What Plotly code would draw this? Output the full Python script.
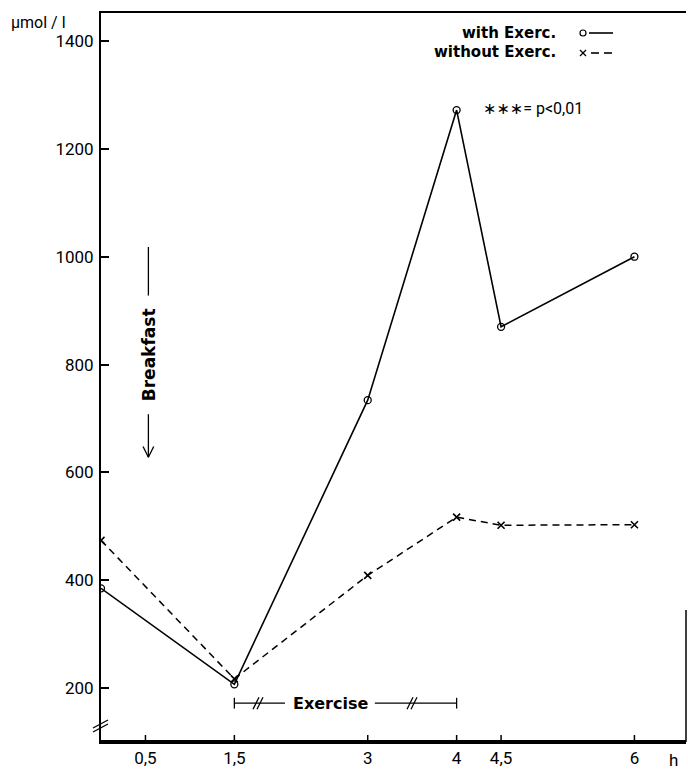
import plotly.graph_objects as go

# Time points (h) and concentrations (µmol/l)
hours = [0, 1.5, 3, 4, 4.5, 6]
with_exercise = [385, 207, 734, 1272, 870, 1000]
without_exercise = [474, 217, 409, 517, 502, 503]

x_tick_vals = [0.5, 1.5, 3, 4, 4.5, 6]
x_tick_text = ["0,5", "1,5", "3", "4", "4,5", "6"]
y_tick_vals = [200, 400, 600, 800, 1000, 1200, 1400]

W, H = 688, 770
ML, MR, MT, MB = 101, 2, 13, 28
PW, PH = W - ML - MR, H - MT - MB
X_RANGE = [0, 6.58]
Y_RANGE = [100, 1452]

NUM_FONT = "Roboto, 'DejaVu Sans', sans-serif"
BOLD_FONT = "'DejaVu Sans', sans-serif"


def px_x(p):
    return (p - ML) / PW


def px_y(p):
    return (H - MB - p) / PH


fig = go.Figure()

fig.add_trace(go.Scatter(
    x=hours, y=with_exercise, mode="lines+markers", name="with Exerc.",
    line=dict(color="black", width=1.6),
    marker=dict(symbol="circle-open", size=7, color="black", line=dict(width=1.3)),
    showlegend=False,
))
fig.add_trace(go.Scatter(
    x=hours, y=without_exercise, mode="lines+markers", name="without Exerc.",
    line=dict(color="black", width=1.5, dash="7px,5px"),
    marker=dict(symbol="x-thin", size=7, color="black", line=dict(width=1.6, color="black")),
    showlegend=False,
))

shapes = []
annotations = []
LINE = dict(color="black", width=1.3)

# frame: bottom edge and partial right edge
shapes.append(dict(type="line", xref="paper", yref="paper", x0=0, x1=1,
                   y0=px_y(741.5), y1=px_y(741.5), line=dict(color="black", width=3),
                   layer="above"))
shapes.append(dict(type="line", xref="paper", yref="paper", x0=1, x1=1,
                   y0=0, y1=px_y(610), line=dict(color="black", width=1.5)))

# x-axis tick marks
for tv in x_tick_vals:
    shapes.append(dict(type="line", x0=tv, x1=tv, yref="paper",
                       y0=px_y(741), y1=px_y(735), line=dict(color="black", width=1.5)))

# y-axis break marks
for dy in (0, 4):
    shapes.append(dict(type="line", xref="paper", yref="paper",
                       x0=px_x(93), y0=px_y(732 - dy), x1=px_x(108), y1=px_y(724 - dy),
                       line=LINE))

# Exercise bracket
EX_Y = 172
ex_y_px = H - MB - (EX_Y - Y_RANGE[0]) / (Y_RANGE[1] - Y_RANGE[0]) * PH
shapes += [
    dict(type="line", x0=1.5, x1=2.07, y0=EX_Y, y1=EX_Y, line=LINE),
    dict(type="line", x0=3.08, x1=4.0, y0=EX_Y, y1=EX_Y, line=LINE),
    dict(type="line", x0=1.5, x1=1.5, y0=EX_Y - 10, y1=EX_Y + 10, line=LINE),
    dict(type="line", x0=4.0, x1=4.0, y0=EX_Y - 10, y1=EX_Y + 10, line=LINE),
]
for cx in (258, 412):
    for dx in (-2, 2):
        shapes.append(dict(type="line", xref="paper", yref="paper",
                           x0=px_x(cx + dx - 3), y0=px_y(ex_y_px + 6),
                           x1=px_x(cx + dx + 3), y1=px_y(ex_y_px - 6), line=LINE))
annotations.append(dict(x=2.58, y=EX_Y, text="<b>Exercise</b>", showarrow=False,
                        font=dict(family=BOLD_FONT, size=16, color="black"),
                        xanchor="center", yanchor="middle"))

# Breakfast marker (vertical text with arrow pointing down)
BX = 0.533
shapes += [
    dict(type="line", x0=BX, x1=BX, y0=928, y1=1018, line=LINE),
    dict(type="line", x0=BX, x1=BX, y0=628, y1=708, line=LINE),
    dict(type="line", x0=BX - 0.06, x1=BX, y0=648, y1=628, line=LINE),
    dict(type="line", x0=BX + 0.06, x1=BX, y0=648, y1=628, line=LINE),
]
annotations.append(dict(x=BX, y=818, text="<b>Breakfast</b>", showarrow=False,
                        textangle=-90, font=dict(family=BOLD_FONT, size=17, color="black"),
                        xanchor="center", yanchor="middle"))

# Legend
annotations += [
    dict(xref="paper", yref="paper", x=px_x(558), y=px_y(33), text="<b>with Exerc.</b>",
         showarrow=False, xanchor="right", yanchor="middle",
         font=dict(family=BOLD_FONT, size=15, color="black")),
    dict(xref="paper", yref="paper", x=px_x(558), y=px_y(52), text="<b>without Exerc.</b>",
         showarrow=False, xanchor="right", yanchor="middle",
         font=dict(family=BOLD_FONT, size=15, color="black")),
]
shapes += [
    dict(type="circle", xref="paper", yref="paper", x0=px_x(580), x1=px_x(586),
         y0=px_y(36), y1=px_y(30), line=dict(color="black", width=1.2)),
    dict(type="line", xref="paper", yref="paper", x0=px_x(589), x1=px_x(613),
         y0=px_y(33), y1=px_y(33), line=dict(color="black", width=1.6)),
    dict(type="line", xref="paper", yref="paper", x0=px_x(580), x1=px_x(586),
         y0=px_y(50), y1=px_y(56), line=dict(color="black", width=1.3)),
    dict(type="line", xref="paper", yref="paper", x0=px_x(580), x1=px_x(586),
         y0=px_y(56), y1=px_y(50), line=dict(color="black", width=1.3)),
    dict(type="line", xref="paper", yref="paper", x0=px_x(591), x1=px_x(599),
         y0=px_y(53), y1=px_y(53), line=dict(color="black", width=1.6)),
    dict(type="line", xref="paper", yref="paper", x0=px_x(604), x1=px_x(612),
         y0=px_y(53), y1=px_y(53), line=dict(color="black", width=1.6)),
]

# significance note
annotations.append(dict(xref="paper", yref="paper", x=px_x(481), y=px_y(108),
                        text="∗∗∗= p<0,01", showarrow=False, xanchor="left", yanchor="middle",
                        font=dict(family=NUM_FONT, size=16, color="black")))

# unit labels
annotations += [
    dict(xref="paper", yref="paper", x=px_x(9), y=px_y(22), text="µmol / l",
         showarrow=False, xanchor="left", yanchor="middle",
         font=dict(family=NUM_FONT, size=16, color="black")),
    dict(xref="paper", yref="paper", x=px_x(673), y=px_y(760), text="h",
         showarrow=False, xanchor="center", yanchor="middle",
         font=dict(family=NUM_FONT, size=17, color="black")),
]

fig.update_layout(
    width=W, height=H,
    margin=dict(l=ML, r=MR, t=MT, b=MB, pad=0),
    paper_bgcolor="white", plot_bgcolor="white",
    showlegend=False,
    shapes=shapes, annotations=annotations,
    xaxis=dict(range=X_RANGE, tickvals=x_tick_vals, ticktext=x_tick_text,
               ticks="", showline=True, linecolor="black", linewidth=2, mirror=True,
               showgrid=False, zeroline=False,
               tickfont=dict(family=NUM_FONT, size=17, color="black")),
    yaxis=dict(range=Y_RANGE, tickvals=y_tick_vals,
               ticks="inside", ticklen=8, tickwidth=2, tickcolor="black",
               showline=True, linecolor="black", linewidth=2,
               showgrid=False, zeroline=False, ticklabelstandoff=2,
               tickfont=dict(family=NUM_FONT, size=17, color="black")),
)

fig.write_html("out.html")
